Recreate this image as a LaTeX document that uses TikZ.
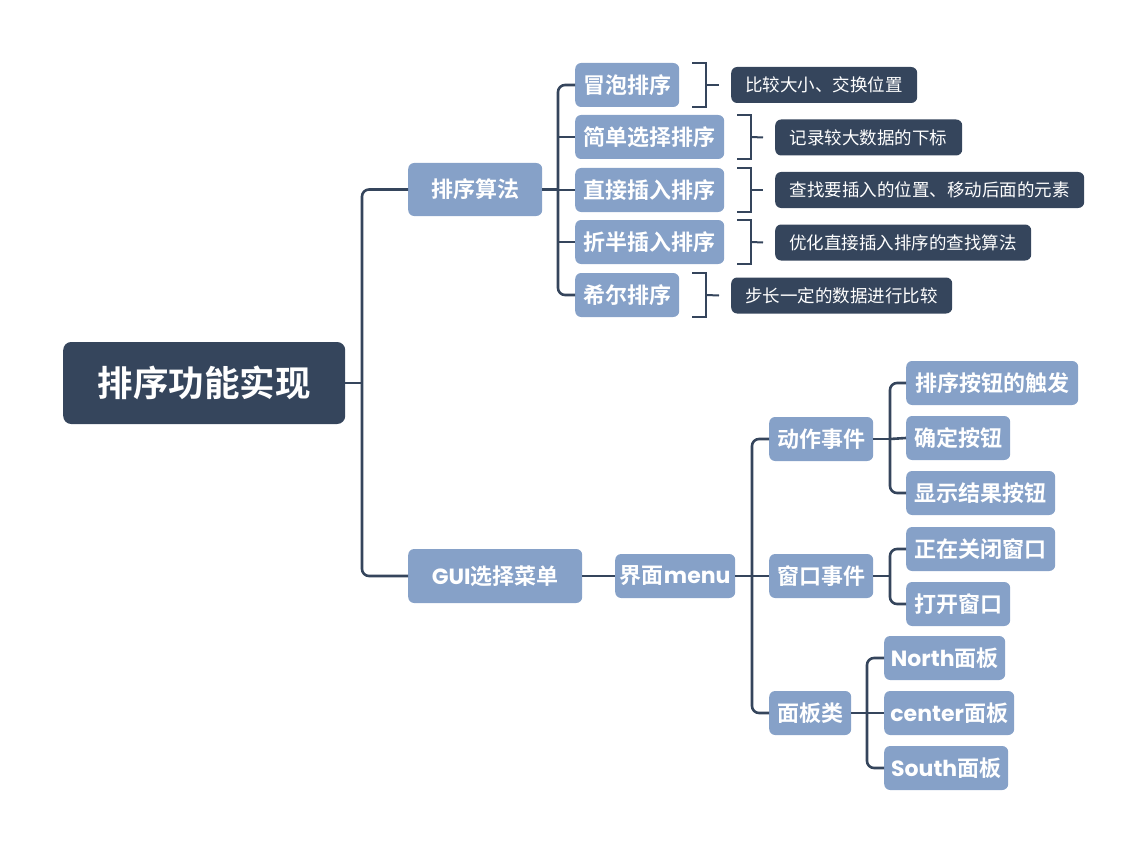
\documentclass[tikz,border=0pt]{standalone}
\usepackage{fontspec}
\newfontfamily\cjk{Noto Sans CJK SC}[BoldFont=Noto Sans CJK SC Bold]
\newfontfamily\lat{Poppins}
\definecolor{dblue}{HTML}{35455C}
\definecolor{lblue}{HTML}{86A1C8}
\newcommand{\La}[1]{{\lat\bfseries #1}}
\begin{document}
\begin{tikzpicture}[x=1pt,y=-1pt,
  lb/.style={fill=lblue, rounded corners=6pt, text=white, font=\cjk\bfseries\fontsize{22}{22}\selectfont, inner sep=0pt, anchor=west, minimum height=44pt},
  db/.style={fill=dblue, rounded corners=6pt, text=white, font=\cjk\fontsize{17.5}{17.5}\selectfont, inner sep=0pt, anchor=west, minimum height=36pt},
  ln/.style={draw=dblue, line width=2.6pt, rounded corners=7pt},
  br/.style={draw=dblue, line width=2pt}]
\useasboundingbox (0,0) rectangle (1147,853);
% root
\node[fill=dblue, rounded corners=8pt, text=white, font=\cjk\bfseries\fontsize{35.5}{35.5}\selectfont, inner sep=0pt, anchor=west, minimum width=282pt, minimum height=82pt] (root) at (63,383) {排序功能实现};
% level 1
\node[lb, minimum width=134pt, minimum height=53pt] (alg) at (408,189.5) {排序算法};
\node[lb, minimum width=174pt, minimum height=54pt] (gui) at (408,576) {\La{GUI}选择菜单};
% sorting
\node[lb, minimum width=104pt] (b1) at (575,85) {冒泡排序};
\node[lb, minimum width=149pt] (b2) at (575,137) {简单选择排序};
\node[lb, minimum width=149pt] (b3) at (575,190) {直接插入排序};
\node[lb, minimum width=149pt] (b4) at (575,242) {折半插入排序};
\node[lb, minimum width=104pt] (b5) at (575,295) {希尔排序};
% notes
\node[db, minimum width=186pt] (d1) at (731,85) {比较大小、交换位置};
\node[db, minimum width=187pt] (d2) at (775,137.5) {记录较大数据的下标};
\node[db, minimum width=309pt] (d3) at (775,190) {查找要插入的位置、移动后面的元素};
\node[db, minimum width=256pt] (d4) at (775,242.5) {优化直接插入排序的查找算法};
\node[db, minimum width=221pt] (d5) at (731,295.5) {步长一定的数据进行比较};
% GUI branch
\node[lb, minimum width=120pt] (menu) at (615,576) {界面\La{menu}};
\node[lb, minimum width=104pt] (e1) at (769,439) {动作事件};
\node[lb, minimum width=104pt] (e2) at (769,576) {窗口事件};
\node[lb, minimum width=82pt] (e3) at (769,713) {面板类};
\node[lb, minimum width=172pt] (f1) at (906,383) {排序按钮的触发};
\node[lb, minimum width=104pt] (f2) at (906,438) {确定按钮};
\node[lb, minimum width=149pt] (f3) at (906,493) {显示结果按钮};
\node[lb, minimum width=149pt] (g1) at (906,549) {正在关闭窗口};
\node[lb, minimum width=104pt] (g2) at (906,604) {打开窗口};
\node[lb, minimum width=121pt] (h1) at (884,658) {\La{North}面板};
\node[lb, minimum width=130pt] (h2) at (884,713) {\La{center}面板};
\node[lb, minimum width=124pt] (h3) at (884,768) {\La{South}面板};
% junctions
\coordinate (j0) at (362,383);
\coordinate (j1) at (558,189.5);
\coordinate (j2) at (752,576);
\coordinate (j3) at (890,439);
\coordinate (j4) at (890,576);
\coordinate (j5) at (867,713);
% connectors
\draw[ln] (root.east) -- (j0);
\draw[ln] (alg.west) -| (j0) |- (gui.west);
\draw[ln] (alg.east) -- (j1);
\draw[ln] (b1.west) -| (j1) |- (b5.west);
\draw[ln] (j1 |- b2.west) -- (b2.west);
\draw[ln] (j1 |- b3.west) -- (b3.west);
\draw[ln] (j1 |- b4.west) -- (b4.west);
\draw[ln] (gui.east) -- (menu.west);
\draw[ln] (menu.east) -- (j2);
\draw[ln] (e1.west) -| (j2) |- (e3.west);
\draw[ln] (j2) -- (e2.west);
\draw[ln] (e1.east) -- (j3);
\draw[ln] (f1.west) -| (j3) |- (f3.west);
\draw[ln] (j3) -- (f2.west);
\draw[ln] (e2.east) -- (j4);
\draw[ln] (g1.west) -| (j4) |- (g2.west);
\draw[ln] (e3.east) -- (j5);
\draw[ln] (h1.west) -| (j5) |- (h3.west);
\draw[ln] (j5) -- (h2.west);
% brackets
\foreach \b/\d in {b1/d1,b2/d2,b3/d3,b4/d4,b5/d5}{
  \draw[br] ([xshift=13pt]\b.north east) -- ([xshift=27pt]\b.north east) -- ([xshift=27pt]\b.south east) -- ([xshift=13pt]\b.south east);
  \draw[br] ([xshift=27pt]\b.east) -- ([xshift=-12pt]\d.west);
}
\end{tikzpicture}
\end{document}
